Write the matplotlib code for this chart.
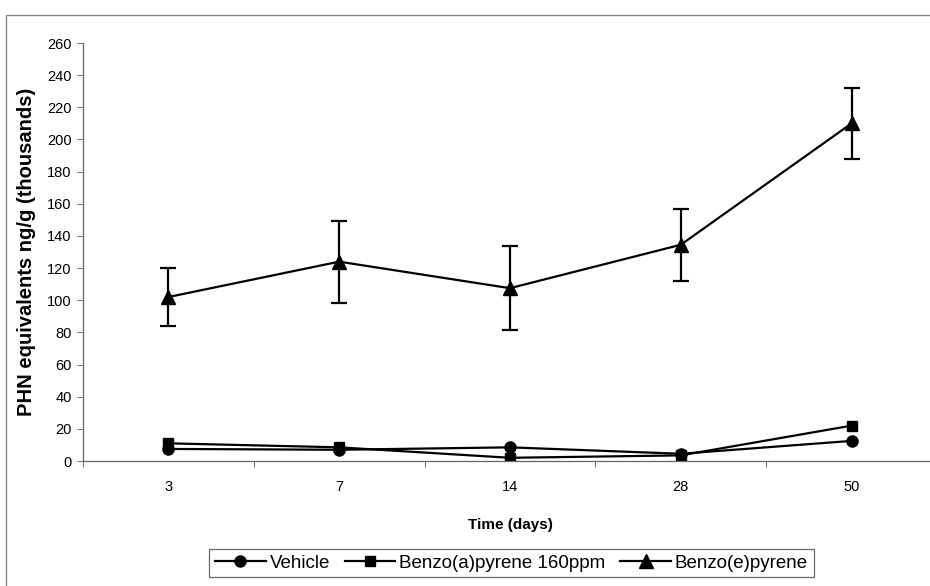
import numpy as np
import matplotlib
matplotlib.use("Agg")
from matplotlib import pyplot as plt
from matplotlib.patches import Rectangle

plt.rcParams['font.family'] = ['Liberation Sans', 'DejaVu Sans']

days = ["3", "7", "14", "28", "50"]
vehicle = [7.5, 7, 8.5, 4.5, 12.5]
benzo_a = [11, 8.5, 2, 3.5, 22]
benzo_e = [102, 124, 107.5, 134.5, 210]
benzo_e_err = [18, 25.5, 26, 22.5, 22]

def main():
    fig = plt.figure(figsize=(9.3, 5.86), dpi=100)
    ax = fig.add_axes([0.0892, 0.2133, 0.9183, 0.7133])

    x = np.arange(len(days))
    line_kw = dict(color="black", linewidth=1.6, markeredgecolor="black", markerfacecolor="black")
    ax.plot(x, vehicle, marker="o", markersize=8, label="Vehicle", **line_kw)
    ax.plot(x, benzo_a, marker="s", markersize=7.5, label="Benzo(a)pyrene 160ppm", **line_kw)
    # error bars drawn on their own so the legend keeps a plain line handle
    ax.errorbar(x, benzo_e, yerr=benzo_e_err, fmt="none", capsize=5.5, capthick=1.6,
                elinewidth=1.6, ecolor="black")
    ax.plot(x, benzo_e, marker="^", markersize=10, label="Benzo(e)pyrene", **line_kw)

    ax.set_xlim(-0.5, len(days) - 0.5)
    ax.set_ylim(0, 260)
    ax.set_yticks(np.arange(0, 261, 20))
    ax.set_xticks(x)
    ax.set_xticklabels(days)
    ax.set_xticks(np.arange(-0.5, len(days), 1.0), minor=True)
    ax.tick_params(axis="x", which="major", length=0, pad=14, labelsize=10.5)
    ax.tick_params(axis="x", which="minor", length=4, width=0.8, color="#777777", direction="out")
    ax.tick_params(axis="y", length=4, width=0.8, color="#777777", labelsize=10.5, pad=4)

    for side in ["top", "right"]:
        ax.spines[side].set_visible(False)
    for side in ["left", "bottom"]:
        ax.spines[side].set_color("#666666")
        ax.spines[side].set_linewidth(0.9)

    ax.set_xlabel("Time (days)", fontsize=11, fontweight="bold", labelpad=17)
    ax.set_ylabel("PHN equivalents ng/g (thousands)", fontsize=14.5, fontweight="bold", labelpad=8)

    leg = fig.legend(loc="center", bbox_to_anchor=(0.55, 0.039), ncol=3, frameon=True,
                     fancybox=False, fontsize=13.5, handlelength=2.7, handletextpad=0.2,
                     columnspacing=0.8, borderpad=0.3, borderaxespad=0)
    leg.get_frame().set_edgecolor("#444444")
    leg.get_frame().set_linewidth(0.9)

    # thin border round the whole chart area
    fig.patches.append(Rectangle((6 / 930, -0.01), 1.0, 0.984, transform=fig.transFigure,
                                 fill=False, edgecolor="#888888", linewidth=1.0))

    fig.savefig("out.png", dpi=100)

if __name__ == "__main__":
    main()
